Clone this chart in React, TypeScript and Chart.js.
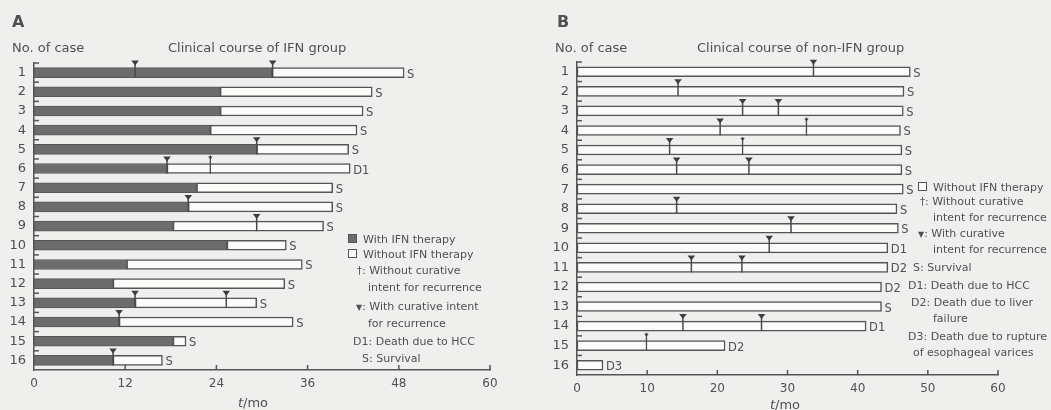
import React, { useEffect, useRef } from "react";
import { Chart, registerables } from "chart.js";

Chart.register(...registerables);

// ---------- Panel A: IFN group ----------
const casesA = ["1", "2", "3", "4", "5", "6", "7", "8", "9", "10", "11", "12", "13", "14", "15", "16"];
const ifnMonthsA = [31.3, 24.5, 24.5, 23.2, 29.3, 17.5, 21.4, 20.3, 18.3, 25.4, 12.2, 10.4, 13.3, 11.2, 18.3, 10.4];
const totalMonthsA = [48.7, 44.5, 43.3, 42.5, 41.4, 41.6, 39.3, 39.3, 38.1, 33.2, 35.3, 33.0, 29.3, 34.1, 20.0, 16.9];
const outcomeA = ["S", "S", "S", "S", "S", "D1", "S", "S", "S", "S", "S", "S", "S", "S", "S", "S"];
const curativeCaseA = [1, 1, 5, 6, 8, 9, 13, 13, 14, 16];
const curativeTimeA = [13.3, 31.4, 29.3, 17.5, 20.3, 29.3, 13.3, 25.3, 11.2, 10.4];
const nonCurativeCaseA = [6];
const nonCurativeTimeA = [23.2];
const xTicksA = [0, 12, 24, 36, 48, 60];

// ---------- Panel B: non-IFN group ----------
const casesB = ["1", "2", "3", "4", "5", "6", "7", "8", "9", "10", "11", "12", "13", "14", "15", "16"];
const totalMonthsB = [47.5, 46.6, 46.5, 46.1, 46.3, 46.3, 46.5, 45.6, 45.8, 44.3, 44.3, 43.4, 43.4, 41.2, 21.1, 3.7];
const outcomeB = ["S", "S", "S", "S", "S", "S", "S", "S", "S", "D1", "D2", "D2", "S", "D1", "D2", "D3"];
const curativeCaseB = [1, 2, 3, 3, 4, 5, 6, 6, 8, 9, 10, 11, 11, 14, 14];
const curativeTimeB = [33.7, 14.4, 23.6, 28.7, 20.4, 13.2, 14.2, 24.5, 14.2, 30.5, 27.4, 16.3, 23.5, 15.1, 26.3];
const nonCurativeCaseB = [4, 5, 15];
const nonCurativeTimeB = [32.7, 23.6, 9.9];
const xTicksB = [0, 10, 20, 30, 40, 50, 60];

const BG = "#eff0ee";
const INK = "#505050";
const BAR_DARK = "#6c6c6c";
const BAR_EDGE = "#555555";
const BAR_WHITE = "#fbfbfa";
const FONT = "'DejaVu Sans', Verdana, sans-serif";
const BAR_T = 10;

type PanelCfg = {
  cases: string[];
  ifn: number[] | null;
  total: number[];
  outcome: string[];
  curCase: number[];
  curTime: number[];
  nonCase: number[];
  nonTime: number[];
  ticks: number[];
  width: number;
  yWidth: number;
  padTop: number;
  padRight: number;
  xHeight: number;
};

function makeOverlayPlugin(cfg: PanelCfg) {
  return {
    id: "overlay",
    afterDatasetsDraw(chart: any) {
      const { ctx, scales } = chart;
      const x = scales.x;
      const y = scales.y;
      const half = BAR_T / 2;
      ctx.save();
      // inward ticks on x axis
      ctx.strokeStyle = BAR_EDGE;
      ctx.lineWidth = 1.5;
      const axisY = chart.chartArea.bottom;
      cfg.ticks.forEach((t) => {
        if (t === 0) return;
        const px = x.getPixelForValue(t);
        ctx.beginPath();
        ctx.moveTo(px, axisY);
        ctx.lineTo(px, axisY - 5);
        ctx.stroke();
      });
      // inward ticks on y axis at category boundaries
      const band = y.getPixelForValue(1) - y.getPixelForValue(0);
      const axisX = chart.chartArea.left;
      for (let i = 0; i < cfg.cases.length; i++) {
        const py = y.getPixelForValue(i) - band / 2;
        ctx.beginPath();
        ctx.moveTo(axisX, py);
        ctx.lineTo(axisX + 5, py);
        ctx.stroke();
      }
      // outcome labels
      ctx.fillStyle = INK;
      ctx.font = `11.5px ${FONT}`;
      ctx.textBaseline = "middle";
      ctx.textAlign = "left";
      cfg.total.forEach((v, i) => {
        const px = x.getPixelForValue(v);
        const py = y.getPixelForValue(i);
        ctx.fillText(cfg.outcome[i], px + 3, py + 2);
      });
      // curative markers (triangle + stem)
      ctx.fillStyle = "#3e3e3e";
      ctx.strokeStyle = "#4a4a4a";
      cfg.curCase.forEach((c, k) => {
        const px = x.getPixelForValue(cfg.curTime[k]);
        const cy = y.getPixelForValue(c - 1);
        const top = cy - half - 7;
        ctx.lineWidth = 1.5;
        ctx.beginPath();
        ctx.moveTo(px, top + 3);
        ctx.lineTo(px, cy + half);
        ctx.stroke();
        ctx.beginPath();
        ctx.moveTo(px - 3.8, top);
        ctx.lineTo(px + 3.8, top);
        ctx.lineTo(px, top + 5);
        ctx.closePath();
        ctx.fill();
      });
      // non-curative markers (small head + stem)
      cfg.nonCase.forEach((c, k) => {
        const px = x.getPixelForValue(cfg.nonTime[k]);
        const cy = y.getPixelForValue(c - 1);
        const top = cy - half - 8;
        ctx.lineWidth = 1.3;
        ctx.beginPath();
        ctx.moveTo(px, top);
        ctx.lineTo(px, cy + half);
        ctx.stroke();
        ctx.beginPath();
        ctx.moveTo(px - 2.2, top + 1);
        ctx.lineTo(px + 2.2, top + 1);
        ctx.lineTo(px, top + 4);
        ctx.closePath();
        ctx.fill();
      });
      ctx.restore();
    },
  };
}

function Panel({ cfg, left }: { cfg: PanelCfg; left: number }) {
  const ref = useRef<HTMLCanvasElement | null>(null);
  useEffect(() => {
    if (!ref.current) return;
    const datasets: any[] = [];
    if (cfg.ifn) {
      datasets.push({
        label: "With IFN therapy",
        data: cfg.ifn.map((v) => [0, v]),
        backgroundColor: BAR_DARK,
        borderColor: BAR_EDGE,
        borderWidth: 1,
        borderSkipped: false,
        grouped: false,
        barThickness: BAR_T,
      });
    }
    datasets.push({
      label: "Without IFN therapy",
      data: cfg.total.map((v, i) => [cfg.ifn ? cfg.ifn[i] : 0, v]),
      backgroundColor: BAR_WHITE,
      borderColor: BAR_EDGE,
      borderWidth: 1.5,
      borderSkipped: false,
      grouped: false,
      barThickness: BAR_T,
    });
    const chart = new Chart(ref.current, {
      type: "bar",
      data: { labels: cfg.cases, datasets },
      options: {
        indexAxis: "y",
        animation: false,
        responsive: false,
        maintainAspectRatio: false,
        layout: { padding: { top: cfg.padTop, right: cfg.padRight, left: 0, bottom: 0 } },
        plugins: { legend: { display: false }, tooltip: { enabled: false }, title: { display: false } },
        scales: {
          x: {
            type: "linear",
            min: 0,
            max: 60,
            afterBuildTicks: (s: any) => {
              s.ticks = cfg.ticks.map((v) => ({ value: v }));
            },
            ticks: { font: { family: FONT, size: 12 }, color: INK, padding: 7, maxRotation: 0 },
            grid: { display: false, drawTicks: false },
            border: { display: true, color: BAR_EDGE, width: 1.5 },
            afterFit: (s: any) => {
              s.height = cfg.xHeight;
            },
          },
          y: {
            type: "category",
            ticks: { font: { family: FONT, size: 13 }, color: INK, padding: 8 },
            grid: { display: false, drawTicks: false },
            border: { display: true, color: BAR_EDGE, width: 1.5 },
            afterFit: (s: any) => {
              s.width = cfg.yWidth;
            },
          },
        },
      } as any,
      plugins: [makeOverlayPlugin(cfg)],
    });
    return () => chart.destroy();
  }, []);
  return (
    <canvas
      ref={ref}
      width={cfg.width}
      height={410}
      style={{ position: "absolute", left, top: 0, width: cfg.width, height: 410 }}
    />
  );
}

function T({ x, y, size = 11, children, bold, italic, center }: any) {
  return (
    <div
      style={{
        position: "absolute",
        left: x,
        top: y - 8,
        height: 16,
        lineHeight: "16px",
        fontSize: size,
        fontFamily: FONT,
        fontWeight: bold ? 700 : 400,
        fontStyle: italic ? "italic" : "normal",
        color: INK,
        whiteSpace: "nowrap",
        transform: center ? "translateX(-50%)" : undefined,
      }}
    >
      {children}
    </div>
  );
}

const boxDark = (
  <span style={{ display: "inline-block", width: 7, height: 7, background: BAR_DARK, border: `1px solid ${BAR_EDGE}`, marginRight: 6, verticalAlign: "0px" }} />
);
const boxWhite = (
  <span style={{ display: "inline-block", width: 7, height: 7, background: BAR_WHITE, border: `1px solid ${BAR_EDGE}`, marginRight: 6, verticalAlign: "0px" }} />
);
const tri = <span style={{ fontSize: 8 }}>▼</span>;
const dag = <span style={{ fontSize: 10 }}>†</span>;

const cfgA: PanelCfg = {
  cases: casesA,
  ifn: ifnMonthsA,
  total: totalMonthsA,
  outcome: outcomeA,
  curCase: curativeCaseA,
  curTime: curativeTimeA,
  nonCase: nonCurativeCaseA,
  nonTime: nonCurativeTimeA,
  ticks: xTicksA,
  width: 528,
  yWidth: 34,
  padTop: 63,
  padRight: 38,
  xHeight: 40,
};

const cfgB: PanelCfg = {
  cases: casesB,
  ifn: null,
  total: totalMonthsB,
  outcome: outcomeB,
  curCase: curativeCaseB,
  curTime: curativeTimeB,
  nonCase: nonCurativeCaseB,
  nonTime: nonCurativeTimeB,
  ticks: xTicksB,
  width: 523,
  yWidth: 49,
  padTop: 62,
  padRight: 53,
  xHeight: 35,
};

export default function App() {
  return (
    <div style={{ position: "absolute", left: 0, top: 0, width: 1051, height: 410, background: BG, overflow: "hidden" }}>
      <Panel cfg={cfgA} left={0} />
      <Panel cfg={cfgB} left={528} />

      {/* Panel A texts */}
      <T x={12} y={22} size={16} bold>A</T>
      <T x={12} y={48} size={13}>No. of case</T>
      <T x={168} y={48} size={13}>Clinical course of IFN group</T>
      <T x={253} y={403} size={13} center><i>t</i>/mo</T>
      <T x={348} y={240}>{boxDark}With IFN therapy</T>
      <T x={348} y={255}>{boxWhite}Without IFN therapy</T>
      <T x={357} y={271}>{dag}: Without curative</T>
      <T x={368} y={288}>intent for recurrence</T>
      <T x={356} y={307}>{tri}: With curative intent</T>
      <T x={368} y={324}>for recurrence</T>
      <T x={353} y={342}>D1: Death due to HCC</T>
      <T x={362} y={359}>S: Survival</T>

      {/* Panel B texts */}
      <T x={557} y={22} size={16} bold>B</T>
      <T x={555} y={48} size={13}>No. of case</T>
      <T x={697} y={48} size={13}>Clinical course of non-IFN group</T>
      <T x={785} y={405} size={13} center><i>t</i>/mo</T>
      <T x={918} y={188}>{boxWhite}Without IFN therapy</T>
      <T x={920} y={202}>{dag}: Without curative</T>
      <T x={933} y={218}>intent for recurrence</T>
      <T x={918} y={234}>{tri}: With curative</T>
      <T x={933} y={250}>intent for recurrence</T>
      <T x={913} y={268}>S: Survival</T>
      <T x={908} y={286}>D1: Death due to HCC</T>
      <T x={911} y={303}>D2: Death due to liver</T>
      <T x={933} y={319}>failure</T>
      <T x={908} y={337}>D3: Death due to rupture</T>
      <T x={913} y={353}>of esophageal varices</T>
    </div>
  );
}
